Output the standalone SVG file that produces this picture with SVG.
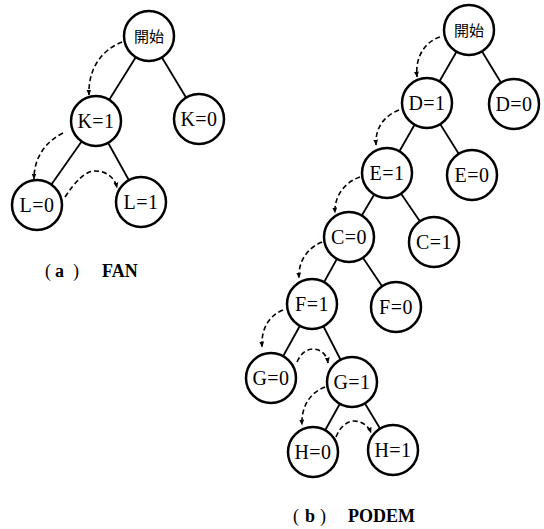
<svg xmlns="http://www.w3.org/2000/svg" width="544" height="529" viewBox="0 0 544 529">
<style>
.edge{stroke:#000;stroke-width:1.8;fill:none}
.dash{stroke:#000;stroke-width:1.6;fill:none;stroke-dasharray:5,3;marker-end:url(#ah)}
.node circle{fill:#fff;stroke:#000;stroke-width:2.5}
.lbl{font-family:"Liberation Serif","Times New Roman",serif;font-size:20px;text-anchor:middle;fill:#000;letter-spacing:0.5px}
.cjk{font-family:"Noto Sans CJK JP","Noto Sans CJK SC",sans-serif;font-size:15px;text-anchor:middle;fill:#000}
.cap{font-family:"Liberation Serif","Times New Roman",serif;font-size:18px;fill:#000}
</style>
<defs>
<marker id="ah" viewBox="0 0 10 10" refX="9" refY="5" markerWidth="6" markerHeight="6" markerUnits="userSpaceOnUse" orient="auto">
<path d="M0,1 L10,5 L0,9 Z" fill="#000"/>
</marker>
</defs>
<g id="connectors">
<line class="edge" x1="149" y1="36" x2="96" y2="121"/>
<line class="edge" x1="149" y1="36" x2="199" y2="119"/>
<line class="edge" x1="96" y1="121" x2="37" y2="205"/>
<line class="edge" x1="96" y1="121" x2="141" y2="202"/>
<line class="edge" x1="469" y1="30" x2="427" y2="103"/>
<line class="edge" x1="469" y1="30" x2="514" y2="104"/>
<line class="edge" x1="427" y1="103" x2="387" y2="173"/>
<line class="edge" x1="427" y1="103" x2="472" y2="175"/>
<line class="edge" x1="387" y1="173" x2="349" y2="237"/>
<line class="edge" x1="387" y1="173" x2="434" y2="242"/>
<line class="edge" x1="349" y1="237" x2="312" y2="304"/>
<line class="edge" x1="349" y1="237" x2="396" y2="307"/>
<line class="edge" x1="312" y1="304" x2="271" y2="378"/>
<line class="edge" x1="312" y1="304" x2="352" y2="382"/>
<line class="edge" x1="352" y1="382" x2="313" y2="452"/>
<line class="edge" x1="352" y1="382" x2="393" y2="450"/>
<path class="dash" d="M122,42 C102,50 88,68 89,95"/>
<path class="dash" d="M63,133 C45,142 34,158 34,179"/>
<path class="dash" d="M65,197 C75,182 85,171 95,171 C107,171 115,178 117,188"/>
<path class="dash" d="M440,37 C424,42 415,58 417,77"/>
<path class="dash" d="M399,110 C384,116 375,128 376,145"/>
<path class="dash" d="M360,177 C345,182 334,196 335,213"/>
<path class="dash" d="M322,242 C307,248 298,262 299,278"/>
<path class="dash" d="M283,310 C268,316 261,330 262,347"/>
<path class="dash" d="M297,362 C301,353 307,349 313,349 C321,349 327,355 328,363"/>
<path class="dash" d="M325,387 C309,393 301,408 302,425"/>
<path class="dash" d="M336,437 C340,427 347,421 354,421 C363,421 369,427 371,433"/>
</g>
<g id="a_start" class="node"><circle cx="149" cy="36" r="25"/><text class="cjk" x="149" y="41.5">開始</text></g>
<g id="a_K1" class="node"><circle cx="96" cy="121" r="25"/><text class="lbl" x="96" y="128">K=1</text></g>
<g id="a_K0" class="node"><circle cx="199" cy="119" r="25"/><text class="lbl" x="199" y="126">K=0</text></g>
<g id="a_L0" class="node"><circle cx="37" cy="205" r="25"/><text class="lbl" x="37" y="212">L=0</text></g>
<g id="a_L1" class="node"><circle cx="141" cy="202" r="25"/><text class="lbl" x="141" y="209">L=1</text></g>
<g id="b_start" class="node"><circle cx="469" cy="30" r="25"/><text class="cjk" x="469" y="35.5">開始</text></g>
<g id="b_D1" class="node"><circle cx="427" cy="103" r="25"/><text class="lbl" x="427" y="110">D=1</text></g>
<g id="b_D0" class="node"><circle cx="514" cy="104" r="25"/><text class="lbl" x="514" y="111">D=0</text></g>
<g id="b_E1" class="node"><circle cx="387" cy="173" r="25"/><text class="lbl" x="387" y="180">E=1</text></g>
<g id="b_E0" class="node"><circle cx="472" cy="175" r="25"/><text class="lbl" x="472" y="182">E=0</text></g>
<g id="b_C0" class="node"><circle cx="349" cy="237" r="25"/><text class="lbl" x="349" y="244">C=0</text></g>
<g id="b_C1" class="node"><circle cx="434" cy="242" r="25"/><text class="lbl" x="434" y="249">C=1</text></g>
<g id="b_F1" class="node"><circle cx="312" cy="304" r="25"/><text class="lbl" x="312" y="311">F=1</text></g>
<g id="b_F0" class="node"><circle cx="396" cy="307" r="25"/><text class="lbl" x="396" y="314">F=0</text></g>
<g id="b_G0" class="node"><circle cx="271" cy="378" r="25"/><text class="lbl" x="271" y="385">G=0</text></g>
<g id="b_G1" class="node"><circle cx="352" cy="382" r="25"/><text class="lbl" x="352" y="389">G=1</text></g>
<g id="b_H0" class="node"><circle cx="313" cy="452" r="25"/><text class="lbl" x="313" y="459">H=0</text></g>
<g id="b_H1" class="node"><circle cx="393" cy="450" r="25"/><text class="lbl" x="393" y="457">H=1</text></g>
<text class="cap" y="277"><tspan x="45">(</tspan><tspan x="55" font-weight="bold">a</tspan><tspan x="73">)</tspan><tspan x="102" font-weight="bold">FAN</tspan></text>
<text class="cap" y="522"><tspan x="293">(</tspan><tspan x="305" font-weight="bold">b</tspan><tspan x="320">)</tspan><tspan x="348" font-weight="bold">PODEM</tspan></text>
</svg>
